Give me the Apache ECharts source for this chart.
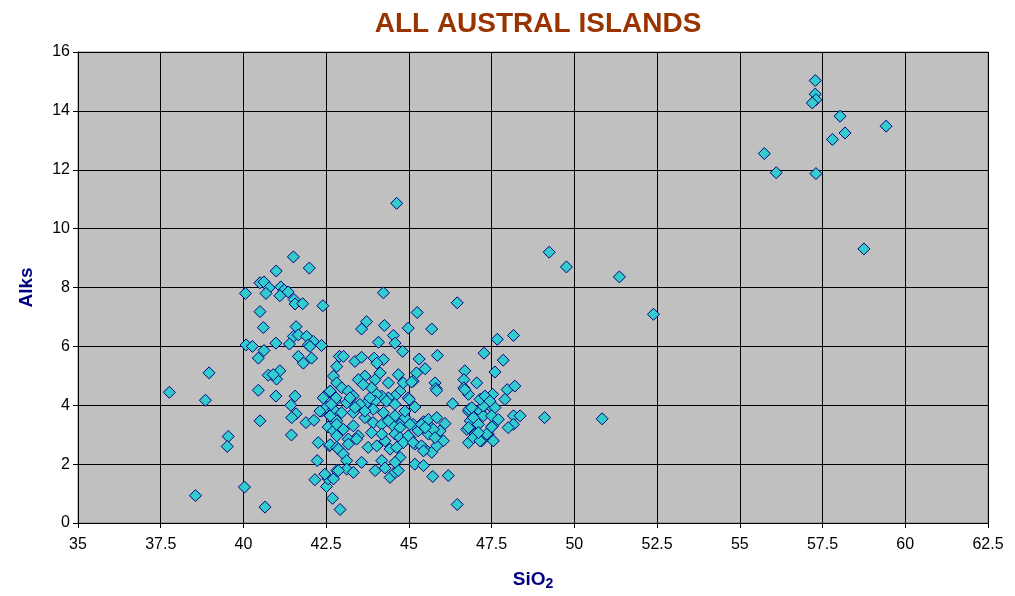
<!DOCTYPE html>
<html>
<head>
<meta charset="utf-8">
<script src="https://cdn.jsdelivr.net/npm/echarts@6/dist/echarts.min.js"></script>
<style>html,body{margin:0;padding:0;background:#fff}#c{width:1015px;height:596px}</style>
</head>
<body>
<div id="c"></div>
<script>
var chartTitle = "ALL AUSTRAL ISLANDS";
var xTicks = [35, 62.5, 2.5];
var yTicks = [0, 16, 2];

var sio2 = [
37.76,38.55,38.85,38.96,39.54,39.51,40.03,40.65,40.45,40.98,41.56,41.43,41.59,41.46,40.5,41.89,42.13,41.45,42.26,42.6,
42.23,42.16,42.51,42.56,42.69,42.92,40.75,41.0,41.1,40.9,41.51,41.99,40.99,40.5,40.62,40.78,40.68,40.06,41.13,41.23,
41.35,41.1,41.53,41.56,41.79,42.4,40.5,40.6,41.59,41.51,41.66,41.91,42.11,42.36,41.96,41.39,40.98,40.08,40.27,40.62,
40.45,41.66,42.06,41.81,42.9,42.82,42.72,42.82,
42.46,42.62,42.77,42.51,42.36,42.62,42.82,42.56,42.72,42.82,42.62,42.82,42.46,42.72,42.82,
46.46,45.25,43.72,43.57,44.26,44.98,45.69,42.01,44.08,44.53,44.58,44.81,43.02,43.37,43.57,43.95,44.23,44.03,45.31,45.86,
47.27,47.6,46.69,45.49,45.23,45.13,44.68,44.38,43.98,44.13,43.67,43.47,43.87,43.62,42.62,42.97,43.17,43.32,45.79,45.82,
46.66,46.8,47.05,47.25,47.53,47.4,47.15,46.32,44.73,44.98,44.58,44.38,44.18,44.03,45.18,43.72,43.52,43.98,42.41,42.51,
42.31,42.72,42.97,43.12,42.62,42.82,43.32,43.67,43.92,44.18,44.58,44.73,44.53,44.88,45.13,45.44,45.59,45.84,46.09,45.69,
45.94,45.89,46.04,45.59,46.8,46.85,47.25,47.5,47.53,46.75,47.0,47.2,47.4,47.55,46.8,46.95,42.87,43.17,43.47,43.77,
44.03,44.28,44.43,44.68,44.83,45.03,45.18,45.49,45.69,45.84,43.02,43.12,43.57,43.98,44.18,44.28,44.43,44.58,44.73,44.68,
43.12,43.32,42.87,45.18,45.44,45.72,46.19,46.46,
42.8,42.65,43.22,43.82,44.32,44.58,44.23,43.92,43.37,43.67,43.02,43.32,44.38,45.28,44.58,43.87,44.18,43.42,43.17,
47.67,48.16,47.85,46.66,47.97,48.2,47.9,47.6,47.25,46.82,48.16,48.36,48.16,48.0,49.1,46.95,47.5,46.8,47.1,47.5,
47.35,47.15,50.84,
57.28,57.28,57.3,57.19,58.03,58.18,57.8,59.42,55.74,56.1,57.3,58.75,49.24,49.76,51.36,52.39,44.63,44.23,
44.83,45.08,45.84,46.69,45.01,44.88,44.73,45.03,45.38,45.74,45.49,44.73,44.98,44.83,45.13,45.38,45.79,45.44,44.63,44.58,
46.9,47.15,47.3,47.45,47.7,47.1
];

var alks = [
4.44,0.93,4.17,5.1,2.94,2.6,1.22,0.54,4.51,4.31,4.31,4.0,3.71,3.58,3.47,3.41,3.49,2.99,2.73,2.62,
2.12,1.47,1.24,1.5,0.84,0.46,5.02,4.89,5.17,5.04,9.04,8.66,8.56,8.16,8.19,7.99,7.8,7.8,8.02,7.91,
7.85,7.72,7.59,7.44,7.45,7.38,7.18,6.64,6.67,6.34,6.39,6.34,6.17,6.03,6.05,6.08,6.11,6.05,6.0,5.86,
5.6,5.66,5.6,5.43,5.66,5.32,4.99,4.76,
4.31,4.48,4.14,3.92,3.8,3.64,3.47,3.26,3.13,2.96,2.66,2.57,1.66,1.5,1.78,
7.48,7.15,6.84,6.59,6.71,6.62,6.59,6.0,6.14,6.37,6.11,5.83,5.66,5.49,5.63,5.6,5.55,5.43,5.57,5.69,
5.77,5.13,5.17,5.24,5.1,4.82,5.04,4.76,4.87,5.1,4.99,4.87,4.59,4.7,4.48,4.59,4.48,4.31,4.76,4.57,
4.87,4.37,4.76,4.25,4.37,4.03,3.8,4.05,4.48,4.25,4.31,4.25,4.31,4.37,3.94,4.08,4.03,4.14,4.25,3.94,
3.8,3.86,3.75,4.08,3.64,3.35,3.75,3.58,3.41,3.35,3.64,3.35,3.3,3.58,3.35,3.44,3.52,3.58,3.38,3.22,
3.13,2.79,2.79,3.02,3.8,3.47,3.64,3.92,3.3,3.18,3.02,2.79,3.02,2.79,2.73,2.9,2.51,2.85,2.96,2.57,
2.62,2.79,2.51,2.62,2.79,2.9,2.68,2.51,2.4,2.62,2.34,2.12,2.06,1.78,2.12,1.87,1.55,1.72,2.23,1.78,
1.83,1.72,1.78,2.0,1.95,1.58,1.61,0.63,
4.25,4.03,4.25,4.25,4.14,4.03,3.75,3.86,3.92,3.8,3.18,3.3,3.47,3.13,3.02,3.07,3.02,2.85,2.68,
6.24,6.37,5.53,4.59,4.53,4.65,4.2,3.92,3.97,3.86,3.64,3.64,3.35,3.24,3.58,3.58,3.64,3.24,3.35,3.26,
3.02,2.79,3.54,
15.03,14.57,14.38,14.27,13.82,13.25,13.03,13.48,12.55,11.9,11.87,9.31,9.2,8.7,8.36,7.09,10.86,7.82,
4.76,4.79,4.5,4.53,4.2,3.8,3.24,3.35,3.35,3.18,3.24,2.9,2.96,2.73,2.73,2.62,2.9,2.45,2.57,2.06,
3.92,4.2,4.31,4.14,3.52,3.07
];

var points = [];
for (var i = 0; i < Math.min(sio2.length, alks.length); i++) points.push([sio2[i], alks[i]]);

var font = "'Liberation Sans', Arial, sans-serif";
var chart = echarts.init(document.getElementById('c'), null, {renderer: 'canvas'});
chart.setOption({
  backgroundColor: '#ffffff',
  animation: false,
  title: {
    text: chartTitle, left: 533, top: 5, textAlign: 'center',
    textStyle: {fontFamily: font, fontWeight: 'bold', fontSize: 28, color: '#993300'}
  },
  grid: {left: 78, right: 27, top: 52, bottom: 70, show: true, backgroundColor: '#c0c0c0', borderColor: '#808080', borderWidth: 1},
  xAxis: {
    type: 'value', min: xTicks[0], max: xTicks[1], interval: xTicks[2],
    name: 'SiO{sub|2}', nameLocation: 'middle', nameGap: 46,
    nameTextStyle: {fontFamily: font, fontWeight: 'bold', fontSize: 19, color: '#000080',
      rich: {sub: {fontFamily: font, fontWeight: 'bold', fontSize: 14, color: '#000080', verticalAlign: 'bottom', padding: [8, 0, 0, 0]}}},
    axisLine: {show: true, onZero: false, lineStyle: {color: '#000', width: 1}},
    axisTick: {show: true, length: 5, lineStyle: {color: '#000'}},
    axisLabel: {fontFamily: font, fontSize: 16, color: '#000', margin: 14},
    splitLine: {show: true, lineStyle: {color: '#000', width: 1}}
  },
  yAxis: {
    type: 'value', min: yTicks[0], max: yTicks[1], interval: yTicks[2],
    name: 'Alks', nameLocation: 'middle', nameGap: 42,
    nameTextStyle: {fontFamily: font, fontWeight: 'bold', fontSize: 19, color: '#000080'},
    axisLine: {show: true, onZero: false, lineStyle: {color: '#000', width: 1}},
    axisTick: {show: true, length: 5, lineStyle: {color: '#000'}},
    axisLabel: {fontFamily: font, fontSize: 16, color: '#000', margin: 8},
    splitLine: {show: true, lineStyle: {color: '#000', width: 1}}
  },
  series: [{
    type: 'scatter', data: points, symbol: 'diamond', symbolSize: 12,
    itemStyle: {color: '#33cccc', borderColor: '#000080', borderWidth: 1, opacity: 1}
  }]
});
</script>
</body>
</html>
